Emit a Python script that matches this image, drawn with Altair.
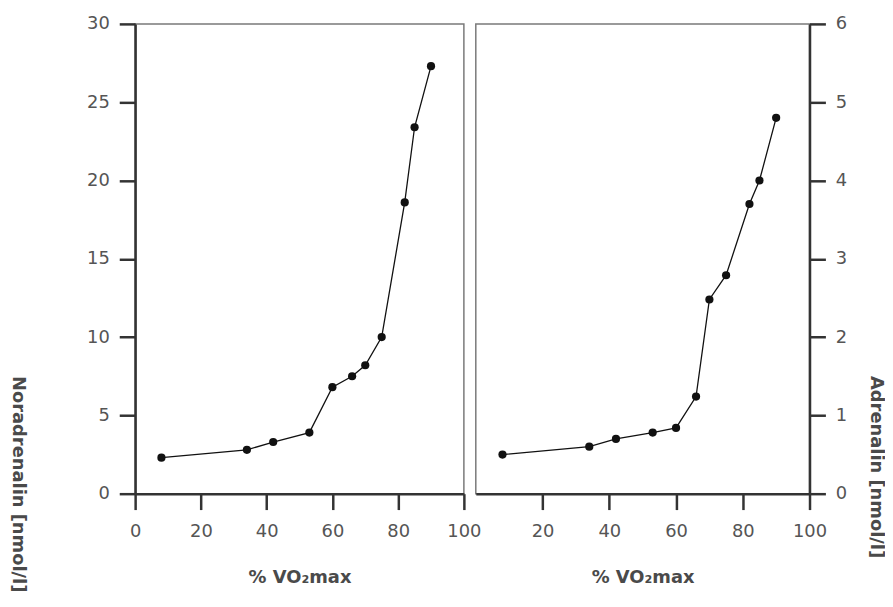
import altair as alt
import pandas as pd

# % VO2max values (x) and concentrations (y)
vo2_nor = [8, 34, 42, 53, 60, 66, 70, 75, 82, 85, 90]
noradrenalin = [2.3, 2.8, 3.3, 3.9, 6.8, 7.5, 8.2, 10.0, 18.6, 23.4, 27.3]

vo2_adr = [8, 34, 42, 53, 60, 66, 70, 75, 82, 85, 90]
adrenalin = [0.5, 0.6, 0.7, 0.78, 0.84, 1.24, 2.48, 2.79, 3.7, 4.0, 4.8]

x_ticks_left = [0, 20, 40, 60, 80, 100]
x_ticks_right = [20, 40, 60, 80, 100]
y_ticks_left = [0, 5, 10, 15, 20, 25, 30]
y_ticks_right = [0, 1, 2, 3, 4, 5, 6]

df_nor = pd.DataFrame({"x": vo2_nor, "y": noradrenalin})
df_adr = pd.DataFrame({"x": vo2_adr, "y": adrenalin})

FONT = "DejaVu Sans"
TXT = "#4a4a4a"
AX = "#333333"


def panel(df, xvals, yvals, ymax, orient, ytitle, title_x, width):
    x = alt.X(
        "x:Q",
        scale=alt.Scale(domain=[0, 100], nice=False),
        axis=alt.Axis(
            values=xvals,
            title="% VO₂max",
            titleFont=FONT,
            titleFontSize=18,
            titleFontWeight="bold",
            titleColor=TXT,
            titlePadding=28,
            labelPadding=13,
            labelFlush=False,
        ),
    )
    y = alt.Y(
        "y:Q",
        scale=alt.Scale(domain=[0, ymax], nice=False),
        axis=alt.Axis(
            values=yvals,
            orient=orient,
            title=ytitle,
            titleFont=FONT,
            titleFontSize=18,
            titleFontWeight="bold",
            titleColor=TXT,
            titleAngle=90,
            titleAlign="left",
            titleBaseline="alphabetic",
            titleX=title_x,
            titleY=354,
            labelPadding=10,
            labelFlush=False,
        ),
    )
    base = alt.Chart(df)
    line = base.mark_line(color="#111111", strokeWidth=1.3).encode(x=x, y=y)
    pts = base.mark_circle(color="#111111", size=68, opacity=1).encode(x=x, y=y)
    return (line + pts).properties(width=width, height=473)


left = panel(df_nor, x_ticks_left, y_ticks_left, 30, "left",
             "Noradrenalin [nmol/l]", -123, 331)
right = panel(df_adr, x_ticks_right, y_ticks_right, 6, "right",
              "Adrenalin [nmol/l]", 61, 336)

chart = (
    alt.hconcat(left, right, spacing=12, bounds="flush")
    .properties(padding={"left": 0, "top": 4, "right": 0, "bottom": 0})
    .configure_view(stroke="#7a7a7a", strokeWidth=1.5)
    .configure_axis(
        grid=False,
        domainColor=AX,
        domainWidth=2.5,
        tickColor=AX,
        tickWidth=2.5,
        tickSize=16,
        labelFont=FONT,
        labelFontSize=18,
        labelColor="#555555",
    )
)

chart.save("out.html", embed_options={"renderer": "svg", "actions": False})
